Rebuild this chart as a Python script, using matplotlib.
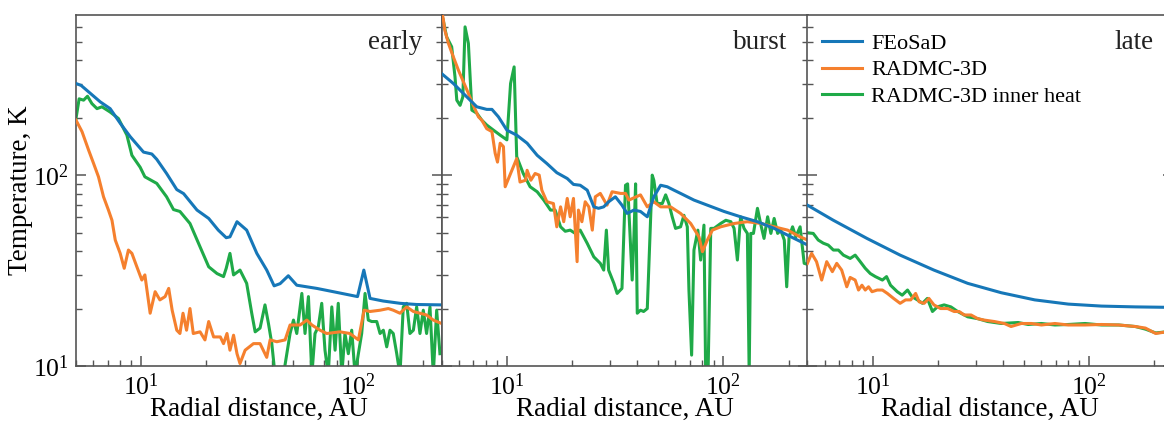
import matplotlib
matplotlib.use("Agg")
import matplotlib.pyplot as plt
from matplotlib.ticker import LogLocator, NullFormatter

plt.rcParams['font.family'] = ['Liberation Serif', 'DejaVu Serif']
plt.rcParams['mathtext.fontset'] = 'custom'
plt.rcParams['mathtext.rm'] = 'Liberation Serif'
plt.rcParams['mathtext.it'] = 'Liberation Serif:italic'
plt.rcParams['mathtext.bf'] = 'Liberation Serif:bold'

# ---------------- data ----------------
panel_names = ["early", "burst", "late"]
series_labels = ["FEoSaD", "RADMC-3D", "RADMC-3D inner heat"]

early_r_fe = [5.0, 5.28, 6.47, 7.19, 8.0, 8.9, 10.25, 11.2, 11.8, 13.1, 14.6, 15.7, 18.1, 20.5, 22.7, 24.7, 25.7,
              27.7, 30.7, 34.2, 38.0, 41.1, 43.8, 47.8, 52.3, 64.7, 77.2, 99.8, 106.7, 114, 131, 157, 187, 244]
early_T_fe = [302, 295, 242, 223, 187, 159, 132, 129, 121, 102, 84, 80, 65.6, 59.3, 51.5, 47, 47.5,
              57, 51.5, 38.9, 31.8, 26.3, 27, 29.7, 26.5, 25.5, 24.5, 23.1, 31.8, 22.6, 21.9, 21.3, 21, 20.9]

early_r_rad = [5.0, 5.33, 5.72, 6.03, 6.35, 6.70, 7.06, 7.33, 7.59, 8.0, 8.35, 8.73, 9.06, 9.55, 10.07, 10.4, 11.0,
               11.6, 12.2, 12.9, 13.4, 13.9, 14.6, 15.1, 15.6, 16.2, 16.8, 17.4, 18.7, 19.7, 20.5, 21.6, 23.2, 24.0,
               24.9, 25.7, 26.7, 27.7, 28.6, 30.2, 33.0, 35.4, 38.0, 39.4, 42.3, 46.2, 48.7, 54.2, 58.2, 61.4, 67,
               71.9, 82.8, 92.1, 100.7, 107, 114, 126.8, 138.4, 146, 156.7, 168.3, 180.7, 193.8, 208, 223.3, 244]
early_T_rad = [194, 169, 135, 115, 98, 77, 65.6, 58, 45.7, 38.9, 32.5, 40.5, 38.9, 33.1, 28.2, 30, 18.9,
               24.5, 22.2, 23.1, 25.5, 19.6, 15.4, 14.8, 18.9, 15.4, 20, 14.8, 15.1, 13.7, 17.1, 14.2, 14.2, 13.1,
               14.8, 12.1, 14.5, 11.6, 10.3, 12.1, 13.1, 13.1, 11.1, 13.7, 13.4, 13.7, 16.4, 16.4, 17.4, 16.4, 15.4,
               14.8, 15.1, 14.8, 13.7, 19.6, 19.3, 19.6, 20, 19.6, 18.9, 20.4, 19.3, 18.9, 18.5, 17.4, 16.7]

early_r_heat = [5.0, 5.17, 5.42, 5.65, 5.92, 6.25, 6.59, 7.19, 7.85, 8.59, 9.06, 9.89, 10.4, 11.8, 13.1, 14.1, 15.1,
                16.8, 18.7, 20.5, 22.4, 24.0, 24.7, 25.7, 26.7, 28.6, 30.7, 32.4, 33.6, 35.4, 37.3, 38.7, 40.1, 41.5,
                45.4, 48.7, 50.5, 52.3, 55.2, 57.1, 59.2, 61.4, 63.5, 65.8, 68.2, 70.6, 73.1, 75.9, 78.6, 81.3, 84.4,
                87.3, 90.5, 93.8, 97.2, 100.7, 104.3, 108.1, 111.9, 116, 122.4, 126.8, 131.3, 136.1, 140.9, 145.9,
                151.4, 156.7, 162.3, 168.3, 174.2, 180.7, 187.1, 193.8, 200.8, 208, 215.6, 223.3, 231.5, 239.7]
early_T_heat = [198, 251, 247, 259, 237, 223, 228, 214, 198, 162, 127, 110, 98, 90.5, 77, 66, 64.5,
                55.8, 42.1, 33.1, 30.5, 29.4, 32.5, 38.9, 30, 31.8, 27.1, 18.9, 15.1, 15.8, 20.9, 16.7, 13.1, 9,
                9, 14.8, 17.4, 14.8, 24.0, 14.8, 23.1, 9, 14.8, 16.1, 21.3, 12.1, 9, 20.4, 12.1, 21.3, 9,
                14.8, 11.6, 15.4, 9, 11.6, 14.8, 24.0, 17.4, 17.1, 17.1, 14.8, 15.4, 12.6, 15.4, 14.8,
                11.6, 9, 20.4, 21.3, 14.8, 15.4, 20.4, 14.8, 19.6, 14.8, 20.4, 9, 19.6, 11.6]

burst_r_fe = [5.0, 5.66, 6.53, 7.26, 8.07, 8.53, 9.14, 10.0, 11.1, 12.4, 13.8, 15.3, 17.0, 19.0, 20.3, 21.8, 23.5,
              25.2, 26.5, 28.0, 29.5, 31.7, 34.0, 35.9, 38.6, 41.4, 44.5, 47.7, 51.3, 55.0, 59.1, 63.4, 73.1, 84.3,
              100.7, 120, 143.6, 171.5, 205, 245]
burst_T_fe = [340, 302, 257, 228, 221, 221, 202, 172, 162, 147, 127, 115, 103, 96, 89.4, 88.5, 83.4,
              68.2, 67, 68.2, 72.5, 77, 69.6, 63, 65.6, 64.5, 60.5, 77, 88.5, 86.9, 83.4, 80.2, 74, 69.6,
              64.5, 60.5, 57, 52.6, 47.5, 43.0]

burst_r_rad = [5.0, 5.08, 5.17, 5.37, 5.66, 5.97, 6.30, 6.64, 7.0, 7.39, 7.66, 8.07, 8.53, 8.83, 9.05, 9.31, 9.64,
               9.82, 10.4, 11.1, 11.5, 12.2, 12.4, 12.9, 13.5, 14.1, 14.5, 15.3, 16.4, 17.0, 17.7, 18.3, 19.0, 19.6,
               20.3, 21.1, 21.4, 22.2, 23.0, 23.9, 24.8, 25.6, 27.0, 29.0, 30.6, 33.5, 35.3, 36.6, 41.4, 44.5, 47.7,
               51.3, 57.0, 63.4, 70.6, 77.1, 80.0, 84.3, 88.9, 97.1, 112, 129, 149, 171.5, 198, 226, 245]
burst_T_rad = [720, 661, 574, 490, 416, 355, 308, 268, 232, 202, 194, 175, 169, 130, 117, 147, 141,
               86.9, 102, 122, 92, 94, 106, 94, 102, 100, 83.4, 72.5, 71, 53.6, 68.2, 57, 75.5, 60.5,
               75.5, 35.2, 65.6, 57, 72.5, 68.2, 51.5, 77, 80.2, 69.6, 81.8, 80.2, 80.2, 74, 78.8, 68.2, 72.5,
               68.2, 68.2, 63, 55.8, 47.5, 39.7, 45.7, 51.5, 53.6, 55.8, 57, 55.8, 53.6, 51.5, 47.5, 45.7]

burst_r_heat = [5.0, 5.08, 5.27, 5.56, 5.76, 5.87, 6.08, 6.26, 6.41, 6.64, 6.89, 7.26, 7.66, 8.07, 8.67, 9.31, 10.0,
                10.4, 10.8, 11.1, 11.9, 12.8, 13.8, 14.8, 15.9, 16.7, 17.7, 18.6, 19.6, 20.7, 21.8, 23.5, 25.2, 27.0,
                28.0, 28.8, 29.5, 31.2, 32.3, 34.0, 35.3, 36.1, 37.9, 38.6, 39.3, 40.0, 41.4, 42.8, 44.5, 46.9, 47.7,
                49.4, 52.2, 54.1, 56.0, 58.0, 60.1, 63.4, 65.7, 68.1, 69.3, 71.3, 73.1, 76.2, 78.5, 81.3, 82.8, 84.9,
                87.4, 90.5, 97.1, 102.6, 108.2, 112, 116, 120, 124.5, 129, 131.5, 133.7, 137.6, 143.6, 149, 154, 160,
                165.6, 171.5, 178, 184, 191, 196, 201, 208.6, 216, 226, 236, 250]
burst_T_heat = [700, 648, 530, 470, 327, 247, 232, 257, 598, 490, 219, 211, 194, 183, 172, 162, 153,
                302, 369, 125, 102, 86.9, 81.8, 74, 65.6, 65.6, 53.6, 50.8, 51.5, 49.5, 51.5, 43.9, 37.3, 34.5,
                31.8, 51.5, 31.8, 27.1, 24.0, 25.5, 88.5, 90, 28.2, 47.5, 90, 18.9, 19.6, 19.3, 20, 100, 94,
                71, 71, 78.8, 71, 60.5, 52.6, 53.6, 61.6, 53.6, 25, 11.4, 40.5, 51.5, 35.9, 54.7, 9, 9,
                52.6, 52.6, 55.8, 58, 57, 52.6, 35.9, 60.5, 52.6, 49.5, 9, 49.5, 49.5, 67, 54.7, 46.6, 60.5,
                49.5, 59.3, 49.5, 51.5, 45.7, 26.0, 47.5, 53.6, 47.5, 53.6, 34.5, 33.8]

late_r_fe = [5.0, 6.59, 9.42, 13.4, 19.2, 27.5, 39.3, 56.1, 80.1, 114, 163.5, 227, 245]
late_T_fe = [69.6, 58, 46.6, 38.1, 31.8, 27.1, 24.2, 22.2, 21.1, 20.6, 20.4, 20.3, 20.3]

late_r_rad = [5.0, 5.23, 5.51, 5.82, 6.14, 6.52, 6.83, 7.20, 7.60, 7.88, 8.31, 8.61, 8.93, 9.25, 9.58, 9.94, 10.5,
              11.1, 11.7, 12.5, 13.4, 14.2, 15.0, 15.8, 16.4, 17.3, 18.2, 19.2, 20.6, 22.2, 23.8, 25.1, 26.5, 28.5,
              30.6, 32.8, 36.5, 40.6, 43.6, 48.6, 54.1, 60.2, 69.5, 80.1, 95.8, 114, 137, 163.5, 182, 203, 227, 245]
late_T_rad = [34.5, 38.9, 35.2, 28.2, 35.2, 31.2, 34.5, 31.8, 26, 29.1, 28.2, 25, 26.5, 25, 26, 24.5, 25,
              25, 24, 22.6, 21.3, 22.2, 22.2, 24, 21.7, 21.3, 22.6, 20.9, 20, 20, 19.3, 19.3, 18.5, 18.5,
              17.7, 17.4, 17.1, 16.7, 16.1, 16.7, 16.7, 16.4, 16.7, 16.4, 16.4, 16.5, 16.4, 16.1, 15.8, 14.8, 15.1, 15.0]

late_r_heat = [5.0, 5.32, 5.61, 5.92, 6.24, 6.59, 6.95, 7.33, 7.88, 8.31, 8.77, 9.25, 9.76, 10.3, 11.1, 11.6, 12.1,
               13.0, 13.7, 14.5, 15.2, 16.1, 17.0, 17.9, 18.9, 19.9, 21.4, 23.0, 24.7, 27.5, 30.6, 34.0, 39.3, 47.0,
               52.3, 60.2, 69.5, 80.1, 95.8, 114, 137, 163.5, 182, 203, 227, 245]
late_T_heat = [49.9, 49.5, 45.7, 44, 43, 40.5, 40.5, 38.1, 36.6, 38.1, 35.2, 32.5, 30.5, 29.4, 28.2, 29.4, 26.5,
               24.5, 23.5, 25, 23.1, 22.2, 21.3, 22.6, 19.3, 20.4, 20.9, 20.4, 19.3, 18.1, 17.7, 17.1, 16.7, 16.9,
               16.5, 16.7, 16.4, 16.5, 16.7, 16.4, 16.4, 16.1, 15.6, 14.9, 15.1, 15.0]

panels = [
    ((early_r_fe, early_T_fe), (early_r_rad, early_T_rad), (early_r_heat, early_T_heat)),
    ((burst_r_fe, burst_T_fe), (burst_r_rad, burst_T_rad), (burst_r_heat, burst_T_heat)),
    ((late_r_fe, late_T_fe), (late_r_rad, late_T_rad), (late_r_heat, late_T_heat)),
]

colors = ['#1677b8', '#f5802e', '#1faa48']
zorders = [4, 3, 2]

# ---------------- figure ----------------
W, H = 1164, 422
fig = plt.figure(figsize=(W / 100, H / 100), dpi=100)

ax_w = 366 / W
ax_b = 56 / H
ax_h = 351 / H
lefts = [76 / W, 441.7 / W, 807.4 / W]

spine_col = '#555555'
label_fs = 19.5
for i, left in enumerate(lefts):
    ax = fig.add_axes([left, ax_b, ax_w, ax_h])
    lines = []
    for j, (r, T) in enumerate(panels[i]):
        ln, = ax.plot(r, T, color=colors[j], lw=2.2, zorder=zorders[j], label=series_labels[j],
                      solid_joinstyle='round')
        lines.append(ln)
    ax.set_xscale('log')
    ax.set_yscale('log')
    ax.set_xlim(5, 245)
    ax.set_ylim(10, 690)
    for s in ax.spines.values():
        s.set_color(spine_col)
        s.set_linewidth(1.2)
    ax.xaxis.set_major_locator(LogLocator(base=10))
    ax.xaxis.set_minor_locator(LogLocator(base=10, subs=range(2, 10)))
    ax.yaxis.set_major_locator(LogLocator(base=10))
    ax.yaxis.set_minor_locator(LogLocator(base=10, subs=range(2, 10)))
    ax.xaxis.set_minor_formatter(NullFormatter())
    ax.yaxis.set_minor_formatter(NullFormatter())
    ax.tick_params(which='both', direction='in', top=False, right=True, left=True, bottom=True,
                   color=spine_col, labelsize=18.5)
    ax.tick_params(which='major', length=7, width=1.1, pad=5)
    ax.tick_params(which='minor', length=4, width=1.0)
    if i > 0:
        ax.tick_params(axis='y', which='both', labelleft=False)
    else:
        ax.set_ylabel('Temperature, K', fontsize=label_fs, labelpad=0)
    ax.set_xlabel('Radial distance, AU', fontsize=label_fs, labelpad=-1.5)
    ax.text(0.945, 0.923, panel_names[i], transform=ax.transAxes, ha='right', va='center',
            fontsize=label_fs, color='#222222')
    if i == 2:
        ax.legend(handles=lines, loc='upper left', bbox_to_anchor=(0.0, 0.99), frameon=False,
                  fontsize=16, handlelength=1.8, handletextpad=0.42, labelspacing=0.28,
                  borderaxespad=0.25, borderpad=0.4)

fig.savefig('out.png', dpi=100)
